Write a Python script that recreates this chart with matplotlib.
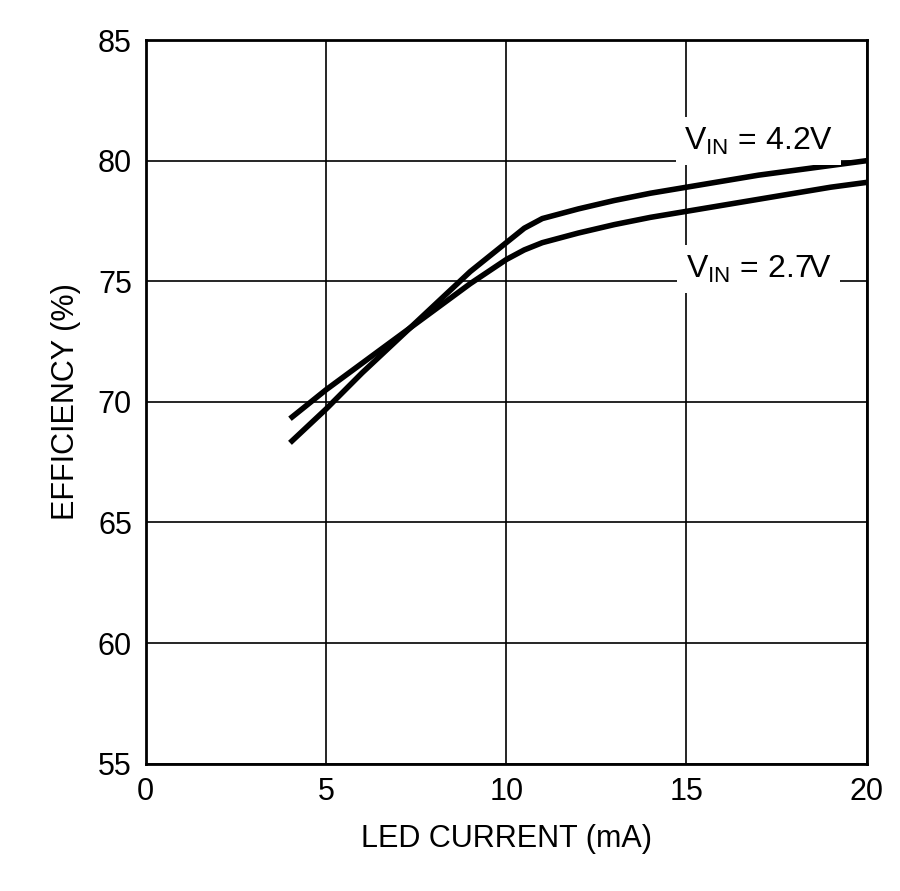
import matplotlib.pyplot as plt

plt.rcParams['font.family'] = ['Liberation Sans', 'DejaVu Sans']

# LED current (mA) vs efficiency (%)
current = [4, 5, 6, 7, 8, 9, 10, 10.5, 11, 12, 13, 14, 15, 16, 17, 18, 19, 20]
eff_42 = [68.3, 69.7, 71.2, 72.6, 74.0, 75.4, 76.6, 77.2, 77.6, 78.0, 78.35, 78.65, 78.9, 79.15, 79.4, 79.6, 79.8, 80.0]
eff_27 = [69.3, 70.5, 71.6, 72.7, 73.8, 74.9, 75.9, 76.3, 76.6, 77.0, 77.35, 77.65, 77.9, 78.15, 78.4, 78.65, 78.9, 79.1]

fig, ax = plt.subplots(figsize=(9, 8.91), dpi=100)
fig.subplots_adjust(left=0.162, right=0.963, top=0.955, bottom=0.143)

ax.plot(current, eff_42, color='black', linewidth=4, solid_capstyle='butt')
ax.plot(current, eff_27, color='black', linewidth=4, solid_capstyle='butt')

ax.set_xlim(0, 20)
ax.set_ylim(55, 85)
ax.set_xticks([0, 5, 10, 15, 20])
ax.set_yticks([55, 60, 65, 70, 75, 80, 85])
ax.tick_params(labelsize=22, length=0, pad=10)
ax.grid(color='black', linewidth=1.2)
for s in ax.spines.values():
    s.set_linewidth(2)

box = dict(facecolor='white', edgecolor='none', pad=6)
ax.text(17, 80.8, r'V$_{\mathregular{IN}}$ = 4.2V', fontsize=23, ha='center', va='center', bbox=box)
ax.text(17, 75.5, r'V$_{\mathregular{IN}}$ = 2.7V', fontsize=23, ha='center', va='center', bbox=box)

ax.set_xlabel('LED CURRENT (mA)', fontsize=22, labelpad=12)
ax.set_ylabel('EFFICIENCY (%)', fontsize=22, labelpad=12)

fig.savefig('out.png', dpi=100)
